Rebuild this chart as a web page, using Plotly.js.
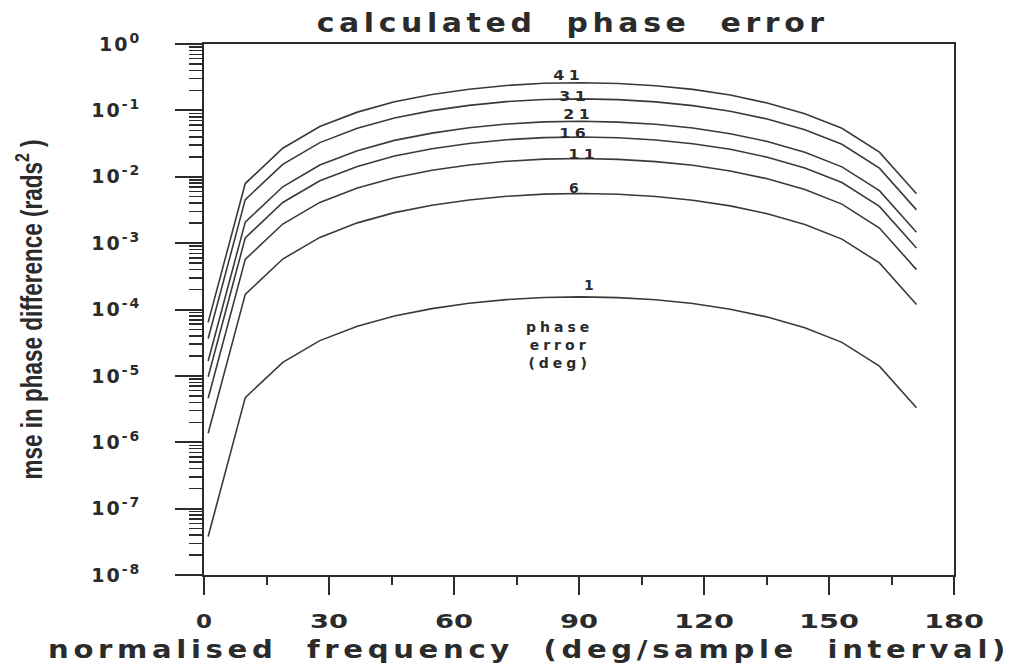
<!DOCTYPE html>
<html>
<head>
<meta charset="utf-8">
<script src="https://cdn.plot.ly/plotly-3.0.1.min.js"></script>
<style>
  html, body { margin: 0; padding: 0; background: #fff; }
  #chart { width: 1019px; height: 664px; }
  .gtitle { letter-spacing: 4px; }
  .xtitle { letter-spacing: 4px; transform: translateX(-50px); }
  .ytick text { letter-spacing: 2px; }
  .annotation-text { letter-spacing: 4px; }
</style>
</head>
<body>
<div id="chart"></div>
<script>
// normalised frequency (deg/sample interval)
const freq = [1, 9.9, 18.9, 27.8, 36.8, 45.7, 54.7, 63.6, 72.6, 81.5, 90.5, 99.4, 108.4, 117.3, 126.3, 135.2, 144.2, 153.1, 162.1, 171];

// mse in phase difference (rads^2), one series per phase error (deg)
const err1  = [3.8e-8, 4.7e-6, 1.6e-5, 3.4e-5, 5.6e-5, 8.0e-5, 1.03e-4, 1.24e-4, 1.41e-4, 1.52e-4, 1.55e-4, 1.51e-4, 1.40e-4, 1.23e-4, 1.01e-4, 7.7e-5, 5.3e-5, 3.2e-5, 1.4e-5, 3.3e-6];
const err6  = [1.37e-6, 1.69e-4, 5.76e-4, 1.22e-3, 2.02e-3, 2.88e-3, 3.71e-3, 4.46e-3, 5.08e-3, 5.47e-3, 5.58e-3, 5.44e-3, 5.04e-3, 4.43e-3, 3.64e-3, 2.77e-3, 1.91e-3, 1.15e-3, 5.04e-4, 1.19e-4];
const err11 = [4.6e-6, 5.69e-4, 1.94e-3, 4.11e-3, 6.78e-3, 9.68e-3, 1.25e-2, 1.50e-2, 1.71e-2, 1.84e-2, 1.88e-2, 1.83e-2, 1.69e-2, 1.49e-2, 1.22e-2, 9.32e-3, 6.41e-3, 3.87e-3, 1.69e-3, 3.99e-4];
const err16 = [9.7e-6, 1.20e-3, 4.10e-3, 8.70e-3, 1.43e-2, 2.05e-2, 2.64e-2, 3.17e-2, 3.61e-2, 3.89e-2, 3.97e-2, 3.87e-2, 3.58e-2, 3.15e-2, 2.59e-2, 1.97e-2, 1.36e-2, 8.19e-3, 3.58e-3, 8.45e-4];
const err21 = [1.68e-5, 2.07e-3, 7.06e-3, 1.50e-2, 2.47e-2, 3.53e-2, 4.54e-2, 5.47e-2, 6.22e-2, 6.70e-2, 6.84e-2, 6.66e-2, 6.17e-2, 5.42e-2, 4.45e-2, 3.40e-2, 2.34e-2, 1.41e-2, 6.17e-3, 1.46e-3];
const err31 = [3.65e-5, 4.52e-3, 1.54e-2, 3.27e-2, 5.38e-2, 7.69e-2, 9.90e-2, 0.119, 0.1355, 0.146, 0.149, 0.145, 0.1345, 0.118, 9.71e-2, 7.40e-2, 5.09e-2, 3.08e-2, 1.35e-2, 3.17e-3];
const err41 = [6.39e-5, 7.90e-3, 2.69e-2, 5.72e-2, 9.41e-2, 0.1345, 0.173, 0.208, 0.237, 0.256, 0.261, 0.254, 0.235, 0.207, 0.170, 0.129, 8.91e-2, 5.38e-2, 2.35e-2, 5.55e-3];

const seriesNames = ['1', '6', '11', '16', '21', '31', '41'];
const seriesData = [err1, err6, err11, err16, err21, err31, err41];

// curve label positions (x in deg, y as log10 value)
const labelX = [92.9, 89.3, 91.0, 88.8, 89.8, 88.8, 87.4];
const labelY = [-3.63, -2.17, -1.657, -1.335, -1.06, -0.783, -0.467];

const xTickVals = [0, 30, 60, 90, 120, 150, 180];
const yTickVals = [1e-8, 1e-7, 1e-6, 1e-5, 1e-4, 1e-3, 1e-2, 1e-1, 1];
const yExponents = ['-8', '-7', '-6', '-5', '-4', '-3', '-2', '-1', '0'];
const yTickText = yExponents.map(e => '10<sup><span style="font-size:14px">' + e + '</span></sup>');

const ink = '#2b2b2b';
const fontFam = '"DejaVu Sans", "Liberation Sans", Arial, sans-serif';

const traces = seriesData.map((ys, i) => ({
  type: 'scatter',
  mode: 'lines',
  x: freq,
  y: ys,
  name: seriesNames[i],
  line: { color: '#3a3a3a', width: 1.6 },
  hoverinfo: 'x+y+name'
}));

const annotations = seriesNames.map((n, i) => ({
  x: labelX[i], y: labelY[i], xref: 'x', yref: 'y',
  text: n, showarrow: false,
  font: { family: fontFam, size: 14, color: ink, weight: 'bold' },
  xanchor: 'center', yanchor: 'middle'
}));
annotations.push({
  x: 85.4, y: -4.535, xref: 'x', yref: 'y',
  text: 'phase<br>error<br>(deg)', showarrow: false,
  font: { family: fontFam, size: 14, color: ink, weight: 'bold' },
  align: 'center', xanchor: 'center', yanchor: 'middle'
});

const shapes = [
  { type: 'line', xref: 'paper', yref: 'paper', x0: -0.036, x1: 0, y0: 0, y1: 0, line: { color: ink, width: 2 } },
  { type: 'line', xref: 'paper', yref: 'paper', x0: -0.036, x1: 0, y0: 1, y1: 1, line: { color: ink, width: 2 } }
];

const layout = {
  width: 1019, height: 664,
  margin: { l: 204, r: 65, t: 44, b: 89 },
  paper_bgcolor: '#fff', plot_bgcolor: '#fff',
  showlegend: false,
  title: {
    text: 'calculated  phase  error',
    font: { family: fontFam, size: 26, color: ink, weight: 'bold' },
    x: 0.562, xanchor: 'center', y: 0.966, yanchor: 'middle', xref: 'container', yref: 'container'
  },
  xaxis: {
    range: [0, 180], tickmode: 'array', tickvals: xTickVals,
    showline: true, linecolor: ink, linewidth: 2, mirror: true,
    ticks: 'outside', ticklen: 18, tickwidth: 2, tickcolor: ink,
    minor: { dtick: 15, tick0: 0, ticks: 'outside', ticklen: 8, tickwidth: 2, tickcolor: ink, showgrid: false },
    showgrid: false, zeroline: false,
    tickfont: { family: fontFam, size: 19, color: ink, weight: 'bold' },
    ticklabelstandoff: 10,
    title: {
      text: 'normalised  frequency  (deg/sample  interval)',
      font: { family: fontFam, size: 25, color: ink, weight: 'bold' },
      standoff: 10
    }
  },
  yaxis: {
    type: 'log', range: [-8, 0], tickmode: 'array', tickvals: yTickVals, ticktext: yTickText,
    showline: true, linecolor: ink, linewidth: 2, mirror: true,
    ticks: 'outside', ticklen: 27, tickwidth: 2, tickcolor: ink,
    minor: { dtick: 'D1', ticks: 'outside', ticklen: 13, tickwidth: 1.5, tickcolor: ink, showgrid: false },
    showgrid: false, zeroline: false,
    tickfont: { family: fontFam, size: 19, color: ink, weight: 'bold' },
    ticklabelstandoff: 30,
    title: {
      text: 'mse in phase difference (rads<sup>2</sup> )',
      font: { family: '"Liberation Sans", Arial, sans-serif', size: 30, color: ink, weight: 'bold' },
      standoff: 40
    }
  },
  annotations: annotations,
  shapes: shapes
};

function fitEl(el, len) {
  el.setAttribute('textLength', String(len));
  el.setAttribute('lengthAdjust', 'spacingAndGlyphs');
}
function fitText(selector, len) {
  const el = document.querySelector(selector);
  if (el) fitEl(el, len);
}

Plotly.newPlot('chart', traces, layout, { displayModeBar: false, staticPlot: true }).then(() => {
  // the original lettering is condensed on the y title and extended elsewhere
  fitText('.ytitle', 340);
  fitText('.gtitle', 512);
  fitText('.xtitle', 962);
  document.querySelectorAll('.xtick text').forEach(t => {
    const n = t.textContent.length;
    fitEl(t, n * 16 + (n - 1) * 6);
  });
  document.querySelectorAll('.annotation-text').forEach(t => {
    const s = t.textContent;
    if (/^\d\d$/.test(s)) fitEl(t, 31);
  });
});
</script>
</body>
</html>
